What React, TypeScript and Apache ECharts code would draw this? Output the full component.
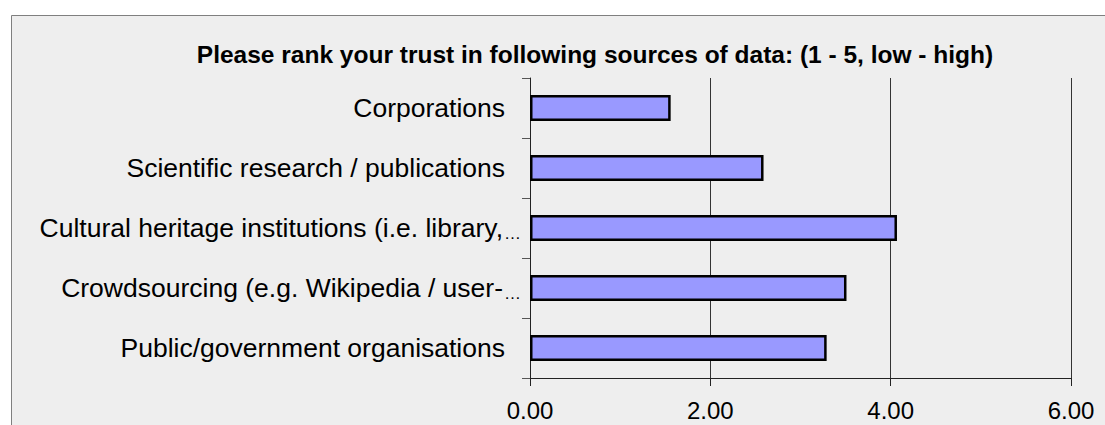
import React, { useEffect, useRef } from "react";
import * as echarts from "echarts";

const titleText = "Please rank your trust in following sources of data: (1 - 5, low - high)";
const categories = [
  "Public/government organisations",
  "Crowdsourcing (e.g. Wikipedia / user-…",
  "Cultural heritage institutions (i.e. library,…",
  "Scientific research / publications",
  "Corporations",
];
const values = [3.29, 3.51, 4.07, 2.59, 1.56];

export default function App() {
  const ref = useRef<HTMLDivElement>(null);
  useEffect(() => {
    const chart = echarts.init(ref.current!, null, { renderer: "svg" });
    chart.setOption({
      animation: false,
      backgroundColor: "#ffffff",
      graphic: [
        {
          type: "rect",
          z: -10,
          silent: true,
          shape: { x: 11.5, y: 15.5, width: 1200, height: 500 },
          style: { fill: "#eeeeee", stroke: "#7f7f7f", lineWidth: 1 },
        },
      ],
      title: {
        text: titleText,
        left: 590,
        textAlign: "center",
        top: 37,
        textStyle: {
          fontFamily: "Liberation Sans",
          fontWeight: "bold",
          fontSize: 24.5,
          color: "#000",
        },
      },
      grid: { left: 530, right: 34, top: 78, bottom: 47, containLabel: false },
      xAxis: {
        type: "value",
        min: 0,
        max: 6,
        interval: 2,
        axisLine: { show: true, lineStyle: { color: "#222", width: 1 } },
        axisTick: { show: true, length: 8, lineStyle: { color: "#222" } },
        splitLine: { show: true, lineStyle: { color: "#333", width: 1 } },
        axisLabel: {
          formatter: (v: number) => v.toFixed(2),
          color: "#000",
          fontFamily: "Liberation Sans",
          fontSize: 24,
          margin: 20,
        },
      },
      yAxis: {
        type: "category",
        data: categories,
        axisLine: { show: true, lineStyle: { color: "#222", width: 1 } },
        axisTick: { show: true, length: 8, lineStyle: { color: "#555" } },
        axisLabel: {
          color: "#000",
          fontFamily: "Liberation Sans",
          fontSize: 26.5,
          margin: 9,
          formatter: (v: string) =>
            v.endsWith("…")
              ? "{t|" + v.slice(0, -1) + "}{e|…}"
              : "{n|" + v + "}",
          rich: {
            t: { fontFamily: "Liberation Sans", fontSize: 26.5, color: "#000", padding: [0, 1, 0, 0] },
            n: { fontFamily: "Liberation Sans", fontSize: 26.5, color: "#000", padding: [0, 16, 0, 0] },
            e: {
              fontFamily: "Liberation Sans",
              fontSize: 17,
              color: "#000",
              verticalAlign: "bottom",
              lineHeight: 17,
            },
          },
        },
      },
      series: [
        {
          type: "bar",
          data: values,
          barWidth: 26,
          itemStyle: { color: "#9999ff", borderColor: "#000", borderWidth: 2.5 },
        },
      ],
    });
    return () => chart.dispose();
  }, []);
  return (
    <div
      ref={ref}
      style={{ position: "absolute", left: 0, top: 0, width: 1105, height: 425 }}
    />
  );
}
